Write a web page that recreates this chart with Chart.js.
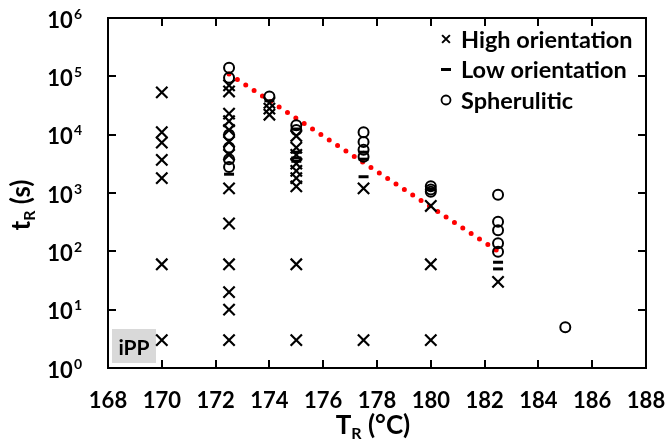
<!DOCTYPE html>
<html>
<head>
<meta charset="utf-8">
<script src="https://cdn.jsdelivr.net/npm/chart.js@4/dist/chart.umd.min.js"></script>
<style>
  html, body { margin: 0; padding: 0; background: #fff; }
  canvas { display: block; }
</style>
</head>
<body>
<canvas id="chart" width="668" height="442"></canvas>
<script>
// axis ticks
const xTicks = [168, 170, 172, 174, 176, 178, 180, 182, 184, 186, 188];
const yTicks = [1, 10, 100, 1000, 10000, 100000, 1000000];

// High orientation (x marks)
const highTemp = [170, 170, 170, 170, 170, 170, 170,
  172.5, 172.5, 172.5, 172.5, 172.5, 172.5, 172.5, 172.5, 172.5, 172.5, 172.5, 172.5, 172.5,
  174, 174, 174,
  175, 175, 175, 175, 175, 175, 175, 175, 175,
  177.5, 177.5,
  180, 180, 180,
  182.5];
const highTime = [53000, 11000, 7300, 3700, 1800, 60, 3,
  70000, 55000, 23000, 17000, 12000, 7500, 4500, 1200, 300, 60, 20, 10, 3,
  35000, 28000, 22000,
  9500, 6000, 4500, 3200, 2400, 1800, 1300, 60, 3,
  1200, 3,
  600, 60, 3,
  30];

// Low orientation (dashes)
const lowTemp = [172.5, 174, 175, 175, 175, 175, 177.5, 177.5, 177.5, 180, 182.5, 182.5];
const lowTime = [2100, 38000, 12500, 5000, 4000, 3500, 5000, 3800, 1900, 1150, 65, 50];

// Spherulitic (open circles)
const spheTemp = [172.5, 172.5, 172.5, 172.5, 172.5, 172.5,
  174, 175, 175,
  177.5, 177.5, 177.5, 177.5,
  180, 180, 180,
  182.5, 182.5, 182.5, 182.5, 182.5,
  185];
const spheTime = [140000, 95000, 10000, 6000, 3800, 2800,
  45000, 14500, 12000,
  11000, 7500, 5500, 4200,
  1300, 1150, 1050,
  930, 320, 230, 137, 98,
  5];

// red dotted trend
const fitTemp = [172.5, 182.5];
const fitTime = [110000, 100];

const FONT = "Lato, 'Open Sans', sans-serif";

function toPoints(xs, ys) {
  return xs.map((x, i) => ({ x: x, y: ys[i] }));
}

const frame = {
  id: "frame",
  beforeDatasetsDraw(chart) {
    const ctx = chart.ctx;
    const a = chart.chartArea;
    ctx.save();
    ctx.fillStyle = "#d9d9d9";
    ctx.fillRect(a.left + 4, a.bottom - 39, 44, 34);
    ctx.fillStyle = "#000";
    ctx.font = "bold 21px " + FONT;
    ctx.textAlign = "center";
    ctx.textBaseline = "middle";
    ctx.fillText("iPP", a.left + 26, a.bottom - 20);
    ctx.restore();
  },
  afterDraw(chart) {
    const ctx = chart.ctx;
    const a = chart.chartArea;
    const xs = chart.scales.x;
    const ys = chart.scales.y;
    ctx.save();
    ctx.strokeStyle = "#000";
    ctx.lineWidth = 2;
    ctx.strokeRect(a.left, a.top, a.right - a.left, a.bottom - a.top);

    // inward ticks on all four sides
    ctx.beginPath();
    xTicks.forEach(v => {
      const px = Math.round(xs.getPixelForValue(v));
      ctx.moveTo(px, a.bottom); ctx.lineTo(px, a.bottom - 8);
      ctx.moveTo(px, a.top); ctx.lineTo(px, a.top + 8);
    });
    yTicks.forEach(v => {
      const py = Math.round(ys.getPixelForValue(v));
      ctx.moveTo(a.left, py); ctx.lineTo(a.left + 8, py);
      ctx.moveTo(a.right, py); ctx.lineTo(a.right - 8, py);
    });
    ctx.stroke();

    ctx.fillStyle = "#000";
    ctx.textBaseline = "middle";

    // x labels
    ctx.font = "bold 22px " + FONT;
    ctx.textAlign = "center";
    xTicks.forEach(v => {
      ctx.fillText(String(v), xs.getPixelForValue(v), a.bottom + 33);
    });

    // y labels as 10 with superscript
    yTicks.forEach(v => {
      const py = ys.getPixelForValue(v);
      const e = String(Math.round(Math.log10(v)));
      ctx.font = "bold 14px " + FONT;
      const ew = ctx.measureText(e).width;
      const xEnd = a.left - 26;
      ctx.textAlign = "left";
      ctx.fillText(e, xEnd - ew, py - 4);
      ctx.font = "bold 22px " + FONT;
      ctx.textAlign = "right";
      ctx.fillText("10", xEnd - ew - 1, py + 2.5);
    });

    // x title: T_R (°C)
    drawSubTitle(ctx, "T", "R", " (°C)", 26, 16, (a.left + a.right) / 2 - 4, 426, false);
    // y title: t_R (s)
    drawSubTitle(ctx, "t", "R", " (s)", 26, 16, 22, 205, true);

    // legend
    const rows = [
      { label: "High orientation", style: "crossRot", r: 5.5, w: 2 },
      { label: "Low orientation", style: "line", r: 5, w: 3 },
      { label: "Spherulitic", style: "circle", r: 4.5, w: 1.8 }
    ];
    rows.forEach((row, i) => {
      const y = a.top + 21 + i * 30.5;
      ctx.strokeStyle = "#000";
      ctx.fillStyle = "#fff";
      ctx.lineWidth = row.w;
      Chart.helpers.drawPoint(ctx, { pointStyle: row.style, radius: row.r, rotation: 0, borderWidth: row.w }, a.right - 200, y);
      ctx.fillStyle = "#000";
      ctx.font = "bold 23.5px " + FONT;
      ctx.textAlign = "left";
      ctx.textBaseline = "middle";
      ctx.fillText(row.label, a.right - 185, y + 1);
    });
    ctx.restore();
  }
};

function drawSubTitle(ctx, main, sub, rest, size, subSize, cx, cy, vertical) {
  ctx.save();
  ctx.fillStyle = "#000";
  ctx.textBaseline = "middle";
  ctx.textAlign = "left";
  ctx.font = "bold " + size + "px " + FONT;
  const w1 = ctx.measureText(main).width;
  const w3 = ctx.measureText(rest).width;
  ctx.font = "bold " + subSize + "px " + FONT;
  const w2 = ctx.measureText(sub).width;
  const total = w1 + w2 + w3;
  ctx.translate(cx, cy);
  if (vertical) ctx.rotate(-Math.PI / 2);
  let x = -total / 2;
  ctx.font = "bold " + size + "px " + FONT;
  ctx.fillText(main, x, 0);
  x += w1;
  ctx.font = "bold " + subSize + "px " + FONT;
  ctx.fillText(sub, x, 8);
  x += w2;
  ctx.font = "bold " + size + "px " + FONT;
  ctx.fillText(rest, x, 0);
  ctx.restore();
}

document.addEventListener("DOMContentLoaded", drawChart);

function drawChart() {
  const ctx = document.getElementById("chart").getContext("2d");

  new Chart(ctx, {
    type: "scatter",
    data: {
      datasets: [
        {
          label: "High orientation",
          data: toPoints(highTemp, highTime),
          pointStyle: "crossRot",
          pointRadius: 8,
          borderColor: "#000",
          borderWidth: 2.2,
          backgroundColor: "#000"
        },
        {
          label: "Low orientation",
          data: toPoints(lowTemp, lowTime),
          pointStyle: "line",
          pointRadius: 5,
          borderColor: "#000",
          borderWidth: 3
        },
        {
          label: "Spherulitic",
          data: toPoints(spheTemp, spheTime),
          pointStyle: "circle",
          pointRadius: 5,
          borderColor: "#000",
          borderWidth: 2,
          backgroundColor: "rgba(255,255,255,0)"
        },
        {
          type: "line",
          label: "fit",
          data: toPoints(fitTemp, fitTime),
          showLine: true,
          pointRadius: 0,
          borderColor: "#ff0000",
          borderWidth: 5,
          borderDash: [0, 10],
          borderCapStyle: "round",
          fill: false
        }
      ]
    },
    options: {
      responsive: false,
      animation: false,
      devicePixelRatio: 1,
      layout: { padding: { top: 18, right: 22, left: 0, bottom: 0 } },
      plugins: {
        legend: { display: false },
        tooltip: { enabled: false }
      },
      scales: {
        x: {
          type: "linear",
          min: 168,
          max: 188,
          afterBuildTicks: s => { s.ticks = xTicks.map(v => ({ value: v })); },
          afterFit: s => { s.height = 74; },
          grid: { display: false, drawTicks: false },
          border: { display: false },
          ticks: { display: false }
        },
        y: {
          type: "logarithmic",
          min: 1,
          max: 1000000,
          afterBuildTicks: s => { s.ticks = yTicks.map(v => ({ value: v })); },
          afterFit: s => { s.width = 108; },
          grid: { display: false, drawTicks: false },
          border: { display: false },
          ticks: { display: false }
        }
      }
    },
    plugins: [frame]
  });
}
</script>
</body>
</html>
